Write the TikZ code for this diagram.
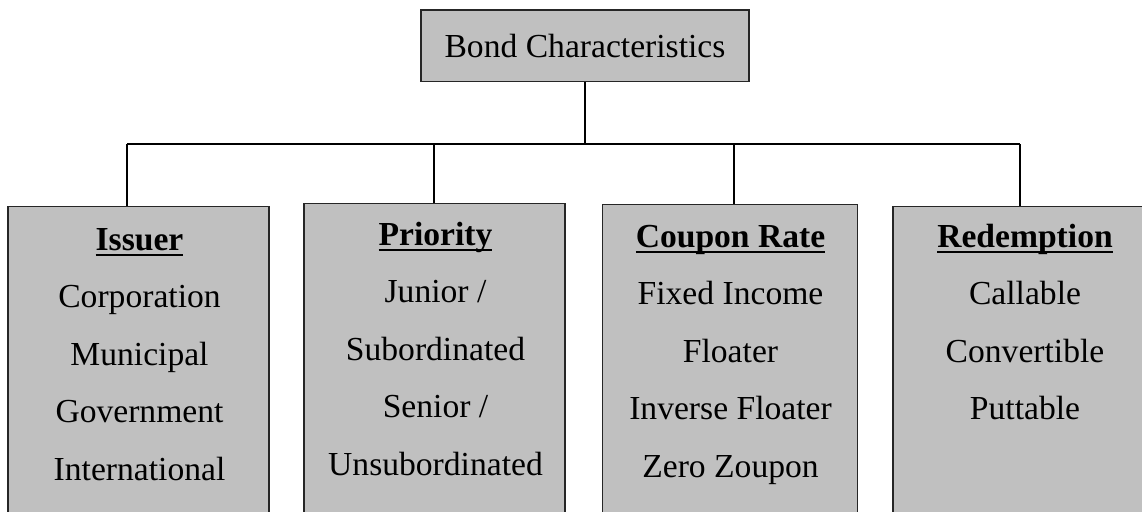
\documentclass[tikz,border=0pt]{standalone}
\usepackage{fontspec}
\setmainfont{Liberation Serif}
\definecolor{boxgray}{HTML}{C0C0C0}
\definecolor{edgegray}{HTML}{262626}
% bold heading with a flat underline a few points below the baseline
\newcommand\catTitle[1]{\sbox0{\bfseries #1}\usebox0\llap{\rule[-5.5pt]{\wd0}{2pt}}}
\begin{document}
\begin{tikzpicture}[x=1pt,y=-1pt,
  rootbox/.style={draw=edgegray,line width=1.3pt,fill=boxgray,minimum width=328pt,
    minimum height=71.5pt,inner sep=0pt,font=\fontsize{33.6}{40}\selectfont},
  catbox/.style={draw=edgegray,line width=1.3pt,fill=boxgray,anchor=north,
    minimum height=340pt,inner sep=0pt},
  cattext/.style={anchor=base,inner sep=0pt,font=\fontsize{33.6}{57.5}\selectfont},
  link/.style={draw=black,line width=1.4pt}]
\useasboundingbox (0,0) rectangle (1142,511);
\clip (0,0) rectangle (1142,511);

% root
\node[rootbox] (root) at (585,45.75) {Bond Characteristics};

% category boxes
\node[catbox,minimum width=261pt] (issuer) at (138.5,206) {};
\node[catbox,minimum width=261pt] (priority) at (434.5,203) {};
\node[catbox,minimum width=255pt] (coupon) at (730,204) {};
\node[catbox,minimum width=261pt] (redemption) at (1023.5,206) {};

% category texts
\node[cattext] (issuerText) at (139.5,250) {\tabcolsep=0pt\begin{tabular}[t]{c}
  \catTitle{Issuer}\\ Corporation\\ Municipal\\ Government\\ International\end{tabular}};
\node[cattext] (priorityText) at (435.5,245) {\tabcolsep=0pt\begin{tabular}[t]{c}
  \catTitle{Priority}\\ Junior /\\ Subordinated\\ Senior /\\ Unsubordinated\end{tabular}};
\node[cattext] (couponText) at (730.5,247) {\tabcolsep=0pt\begin{tabular}[t]{c}
  \catTitle{Coupon Rate}\\ Fixed Income\\ Floater\\ Inverse Floater\\ Zero Zoupon\end{tabular}};
\node[cattext] (redemptionText) at (1025,247) {\tabcolsep=0pt\begin{tabular}[t]{c}
  \catTitle{Redemption}\\ Callable\\ Convertible\\ Puttable\end{tabular}};

% tree connectors
\coordinate (busL) at (127,144);
\coordinate (busR) at (1020,144);
\coordinate (tapP) at (434,144);
\coordinate (tapC) at (734,144);
\draw[link] (root.south) -- (root.south |- busL);
\draw[link] (busL) -- (busR);
\draw[link] (busL) -- (busL |- issuer.north);
\draw[link] (tapP) -- (tapP |- priority.north);
\draw[link] (tapC) -- (tapC |- coupon.north);
\draw[link] (busR) -- (busR |- redemption.north);
\end{tikzpicture}
\end{document}
